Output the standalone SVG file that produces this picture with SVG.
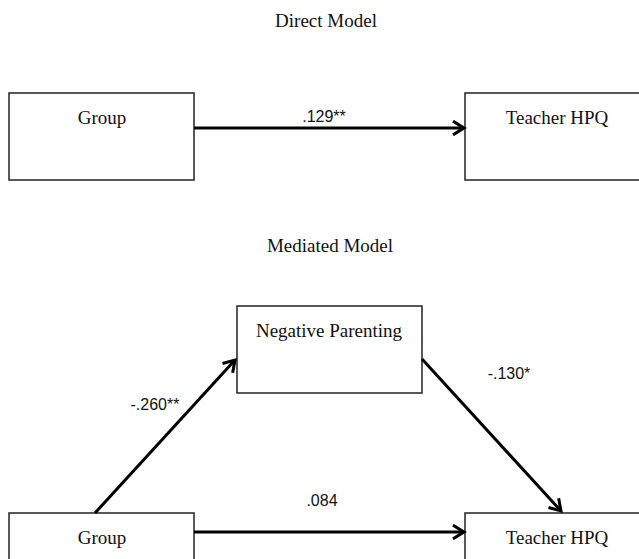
<svg xmlns="http://www.w3.org/2000/svg" width="639" height="559" viewBox="0 0 639 559">
<style>
.box{fill:#fff;stroke:#222;stroke-width:1.5}
.t{font-family:"Liberation Serif","Times New Roman",serif;font-size:19px;fill:#111;text-anchor:middle}
.l{font-family:"Liberation Sans",Arial,sans-serif;font-size:16px;fill:#111;text-anchor:middle}
.c{stroke:#000;stroke-width:3;fill:none}
</style>
<defs>
<marker id="ah" viewBox="0 0 12 12" refX="10" refY="6" markerWidth="5.5" markerHeight="5.5" markerUnits="strokeWidth" orient="auto">
<path d="M2,1 L10,6 L2,11" fill="none" stroke="#000" stroke-width="2.2"/>
</marker>
</defs>
<rect width="639" height="559" fill="#fff"/>
<text class="t" x="326" y="27">Direct Model</text>
<text class="t" x="330" y="252">Mediated Model</text>
<g id="group1"><rect class="box" x="9" y="93" width="185" height="87"/><text class="t" x="102" y="124">Group</text></g>
<g id="teacher1"><rect class="box" x="465" y="93" width="180" height="87"/><text class="t" x="557" y="124">Teacher HPQ</text></g>
<g id="negpar"><rect class="box" x="237" y="306" width="185" height="87"/><text class="t" x="329" y="337">Negative Parenting</text></g>
<g id="group2"><rect class="box" x="9" y="513" width="185" height="60"/><text class="t" x="102" y="544">Group</text></g>
<g id="teacher2"><rect class="box" x="465" y="513" width="180" height="60"/><text class="t" x="557" y="544">Teacher HPQ</text></g>
<g id="connectors">
<line class="c" x1="194" y1="128" x2="464" y2="128" marker-end="url(#ah)"/>
<line class="c" x1="95" y1="513" x2="235" y2="360" marker-end="url(#ah)"/>
<line class="c" x1="422" y1="359" x2="561" y2="511" marker-end="url(#ah)"/>
<line class="c" x1="194" y1="532" x2="464" y2="532" marker-end="url(#ah)"/>
<text class="l" x="324" y="122">.129**</text>
<text class="l" x="155" y="410">-.260**</text>
<text class="l" x="509" y="379">-.130*</text>
<text class="l" x="322" y="506">.084</text>
</g>
</svg>
